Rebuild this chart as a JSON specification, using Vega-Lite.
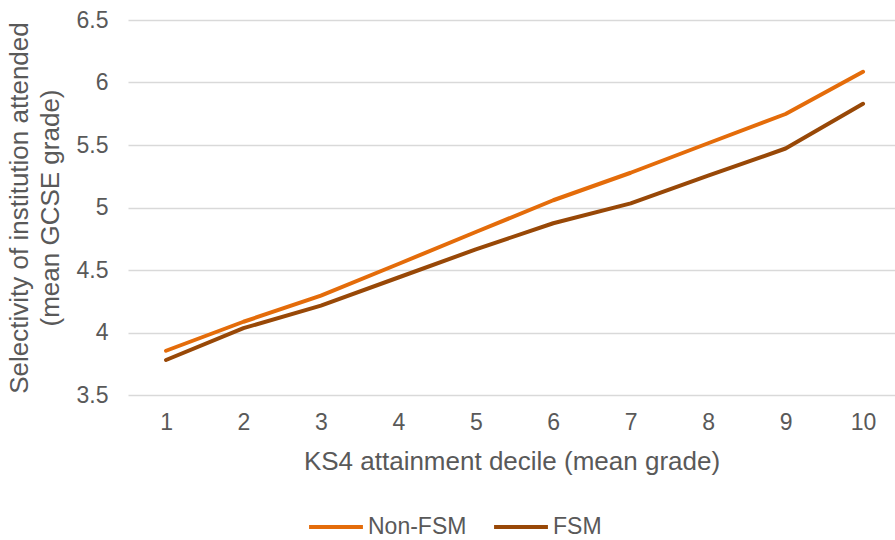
{
  "$schema": "https://vega.github.io/schema/vega-lite/v6.json",
  "width": 767,
  "height": 375,
  "autosize": "none",
  "padding": {"left": 128, "top": 20, "right": 0, "bottom": 145},
  "background": "white",
  "config": {
    "view": {"stroke": null},
    "font": "Liberation Sans",
    "axis": {"labelColor": "#595959", "titleColor": "#595959", "labelFont": "Liberation Sans", "titleFont": "Liberation Sans", "titleFontWeight": "normal"},
    "legend": {"labelColor": "#595959", "labelFont": "Liberation Sans"}
  },
  "data": {
    "values": [
      {"decile": 1, "group": "Non-FSM", "value": 3.854},
      {"decile": 2, "group": "Non-FSM", "value": 4.086},
      {"decile": 3, "group": "Non-FSM", "value": 4.295},
      {"decile": 4, "group": "Non-FSM", "value": 4.548},
      {"decile": 5, "group": "Non-FSM", "value": 4.804},
      {"decile": 6, "group": "Non-FSM", "value": 5.058},
      {"decile": 7, "group": "Non-FSM", "value": 5.278},
      {"decile": 8, "group": "Non-FSM", "value": 5.514},
      {"decile": 9, "group": "Non-FSM", "value": 5.748},
      {"decile": 10, "group": "Non-FSM", "value": 6.086},
      {"decile": 1, "group": "FSM", "value": 3.78},
      {"decile": 2, "group": "FSM", "value": 4.035},
      {"decile": 3, "group": "FSM", "value": 4.215},
      {"decile": 4, "group": "FSM", "value": 4.44},
      {"decile": 5, "group": "FSM", "value": 4.665},
      {"decile": 6, "group": "FSM", "value": 4.874},
      {"decile": 7, "group": "FSM", "value": 5.033},
      {"decile": 8, "group": "FSM", "value": 5.255},
      {"decile": 9, "group": "FSM", "value": 5.472},
      {"decile": 10, "group": "FSM", "value": 5.83}
    ]
  },
  "mark": {"type": "line", "strokeWidth": 4, "strokeCap": "round", "strokeJoin": "round"},
  "encoding": {
    "x": {
      "field": "decile",
      "type": "quantitative",
      "scale": {"domain": [0.509, 10.413], "nice": false, "zero": false},
      "axis": {
        "values": [1, 2, 3, 4, 5, 6, 7, 8, 9, 10],
        "format": "d",
        "grid": false,
        "domain": false,
        "ticks": false,
        "labelFontSize": 23,
        "labelPadding": 16,
        "title": "KS4 attainment decile (mean grade)",
        "titleFontSize": 26,
        "titlePadding": 14
      }
    },
    "y": {
      "field": "value",
      "type": "quantitative",
      "scale": {"domain": [3.5, 6.5], "nice": false, "zero": false},
      "axis": {
        "values": [3.5, 4, 4.5, 5, 5.5, 6, 6.5],
        "format": "~g",
        "grid": true,
        "gridColor": "#d9d9d9",
        "gridWidth": 1.5,
        "domain": false,
        "ticks": false,
        "labelFontSize": 23,
        "labelPadding": 20,
        "title": ["Selectivity of institution attended", "(mean GCSE grade)"],
        "titleFontSize": 26,
        "titleLineHeight": 31,
        "titlePadding": 13
      }
    },
    "color": {
      "field": "group",
      "type": "nominal",
      "scale": {"domain": ["Non-FSM", "FSM"], "range": ["#E46C0A", "#984807"]},
      "legend": {
        "title": null,
        "orient": "none",
        "direction": "horizontal",
        "legendX": 179,
        "legendY": 478,
        "symbolType": "stroke",
        "symbolSize": 2900,
        "symbolStrokeWidth": 4,
        "labelFontSize": 23,
        "labelOffset": 3,
        "columnPadding": 19,
        "padding": 0
      }
    }
  }
}
